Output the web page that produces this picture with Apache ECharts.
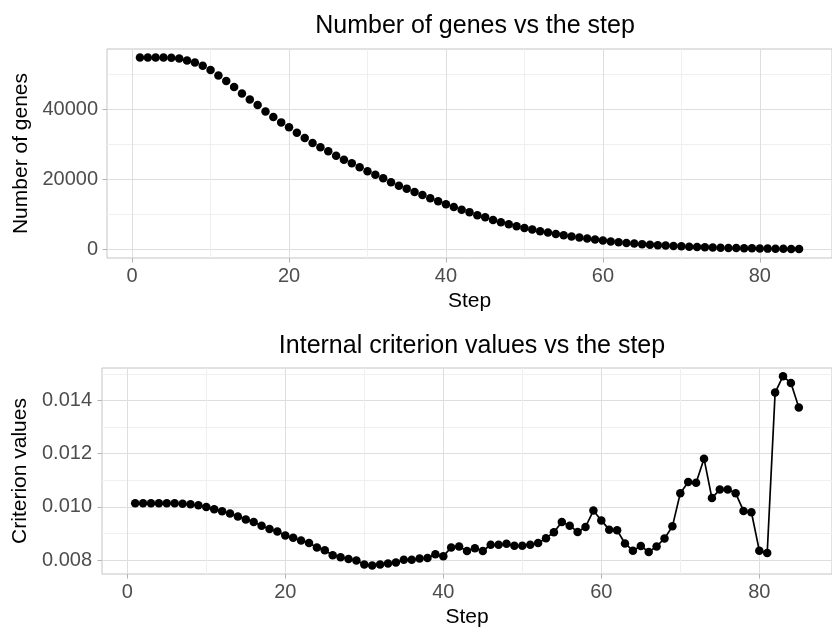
<!DOCTYPE html>
<html>
<head>
<meta charset="utf-8">
<script src="https://cdn.jsdelivr.net/npm/echarts@6/dist/echarts.min.js"></script>
<style>
html,body{margin:0;padding:0;background:#fff;}
#main{width:832px;height:629px;}
</style>
</head>
<body>
<div id="main"></div>
<script>
// step index
var steps = [1,2,3,4,5,6,7,8,9,10,11,12,13,14,15,16,17,18,19,20,
	21,22,23,24,25,26,27,28,29,30,31,32,33,34,35,36,37,38,39,40,
	41,42,43,44,45,46,47,48,49,50,51,52,53,54,55,56,57,58,59,60,
	61,62,63,64,65,66,67,68,69,70,71,72,73,74,75,76,77,78,79,80,
	81,82,83,84,85];
// 基因数
var geneCounts = [54690,54690,54690,54690,54600,54410,53840,53270,52320,51090,
	49575,47960,46260,44460,42750,41140,39340,37730,36210,34790,
	33270,31750,30330,29100,27960,26730,25590,24550,23410,22280,
	21330,20280,19150,18200,17350,16400,15550,14600,13740,12890,
	12130,11330,10660,9763,9195,8436,7773,7204,6635,6161,
	5687,5213,4834,4455,4076,3697,3412,3128,2844,2559,
	2300,2085,1896,1720,1550,1400,1260,1130,1020,920,
	830,750,670,600,540,480,430,390,350,300,
	270,240,210,190,160];
// 内部准则值
var criterion = [0.010134,0.010134,0.010134,0.010134,0.010134,0.010134,0.010122,0.010097,0.010060,0.009999,
	0.009912,0.009838,0.009752,0.009641,0.009530,0.009431,0.009295,0.009172,0.009073,0.008925,
	0.008838,0.008740,0.008641,0.008480,0.008369,0.008184,0.008110,0.008048,0.007986,0.007838,
	0.007801,0.007838,0.007875,0.007912,0.008011,0.008011,0.008060,0.008085,0.008221,0.008147,
	0.008480,0.008510,0.008344,0.008445,0.008344,0.008579,0.008579,0.008616,0.008542,0.008542,
	0.008579,0.008641,0.008826,0.009048,0.009431,0.009295,0.009060,0.009246,0.009864,0.009493,
	0.009147,0.009122,0.008628,0.008357,0.008530,0.008307,0.008517,0.008814,0.009270,0.010517,
	0.010937,0.010912,0.011814,0.010332,0.010653,0.010653,0.010517,0.009851,0.009801,0.008357,
	0.008270,0.014295,0.014912,0.014653,0.013740];
var xTicks = [0,20,40,60,80];
var geneTicks = [0,20000,40000];
var critTicks = [0.008,0.010,0.012,0.014];

var FONT = '"Liberation Sans", Arial, Helvetica, sans-serif';

function pairs(xs, ys){
	var out = [];
	for (var i = 0; i < xs.length; i++) {
		out.push([xs[i], ys[i]]);
	}
	return out;
}

function xAxisOf(gridIndex){
	return {
		type: 'value',
		gridIndex: gridIndex,
		min: -3.2,
		max: 89.2,
		splitNumber: 5,
		name: 'Step',
		nameLocation: 'middle',
		nameGap: 33,
		nameTextStyle: {fontSize: 21, color: '#000', fontFamily: FONT},
		axisLine: {show: false, onZero: false},
		axisTick: {show: true, length: 4.5, customValues: xTicks, lineStyle: {color: '#b3b3b3', width: 1}},
		axisLabel: {customValues: xTicks, margin: 8, fontSize: 20, color: '#4d4d4d', fontFamily: FONT},
		splitLine: {show: true, lineStyle: {color: '#dedede', width: 1}},
		minorTick: {show: false, splitNumber: 2},
		minorSplitLine: {show: true, lineStyle: {color: '#efefef', width: 1}}
	};
}

var chart = echarts.init(document.getElementById('main'), null, {renderer: 'canvas'});
var option = {
	animation: false,
	backgroundColor: '#fff',
	title: [{
		text: 'Number of genes vs the step',
		left: 475, top: 14, padding: 0, textAlign: 'center',
		textStyle: {fontSize: 25, fontWeight: 'normal', color: '#000', fontFamily: FONT}
	}, {
		text: 'Internal criterion values vs the step',
		left: 472, top: 334, padding: 0, textAlign: 'center',
		textStyle: {fontSize: 25, fontWeight: 'normal', color: '#000', fontFamily: FONT}
	}],
	grid: [
		{left: 107, top: 49, width: 735, height: 209, show: true, borderColor: '#c4c4c4', borderWidth: 1, backgroundColor: 'transparent'},
		{left: 102, top: 368, width: 741, height: 209, show: true, borderColor: '#c4c4c4', borderWidth: 1, backgroundColor: 'transparent'}
	],
	xAxis: [xAxisOf(0), xAxisOf(1)],
	yAxis: [{
		type: 'value',
		gridIndex: 0,
		min: -2400,
		max: 57100,
		splitNumber: 3,
		name: 'Number of genes',
		nameLocation: 'middle',
		nameGap: 74,
		nameTextStyle: {fontSize: 21, color: '#000', fontFamily: FONT},
		axisLine: {show: false, onZero: false},
		axisTick: {show: true, length: 4.5, customValues: geneTicks, lineStyle: {color: '#b3b3b3', width: 1}},
		axisLabel: {customValues: geneTicks, margin: 9, fontSize: 20, color: '#4d4d4d', fontFamily: FONT,
			formatter: function(v){ return String(v); }},
		splitLine: {show: true, lineStyle: {color: '#dedede', width: 1}},
		minorTick: {show: false, splitNumber: 2},
		minorSplitLine: {show: true, lineStyle: {color: '#efefef', width: 1}}
	}, {
		type: 'value',
		gridIndex: 1,
		min: 0.00748,
		max: 0.01522,
		splitNumber: 4,
		name: 'Criterion values',
		nameLocation: 'middle',
		nameGap: 69,
		nameTextStyle: {fontSize: 21, color: '#000', fontFamily: FONT},
		axisLine: {show: false, onZero: false},
		axisTick: {show: true, length: 4.5, customValues: critTicks, lineStyle: {color: '#b3b3b3', width: 1}},
		axisLabel: {customValues: critTicks, margin: 10, fontSize: 20, color: '#4d4d4d', fontFamily: FONT,
			formatter: function(v){ return v.toFixed(3); }},
		splitLine: {show: true, lineStyle: {color: '#dedede', width: 1}},
		minorTick: {show: false, splitNumber: 2},
		minorSplitLine: {show: true, lineStyle: {color: '#efefef', width: 1}}
	}],
	series: [{
		name: 'genes',
		type: 'scatter',
		xAxisIndex: 0,
		yAxisIndex: 0,
		symbol: 'circle',
		symbolSize: 8.5,
		itemStyle: {color: '#000', opacity: 1},
		silent: true,
		data: pairs(steps, geneCounts)
	}, {
		name: 'criterion',
		type: 'line',
		xAxisIndex: 1,
		yAxisIndex: 1,
		symbol: 'circle',
		symbolSize: 8.5,
		showSymbol: true,
		itemStyle: {color: '#000', opacity: 1},
		lineStyle: {color: '#000', width: 1.7},
		silent: true,
		data: pairs(steps, criterion)
	}]
};
chart.setOption(option);
</script>
</body>
</html>
